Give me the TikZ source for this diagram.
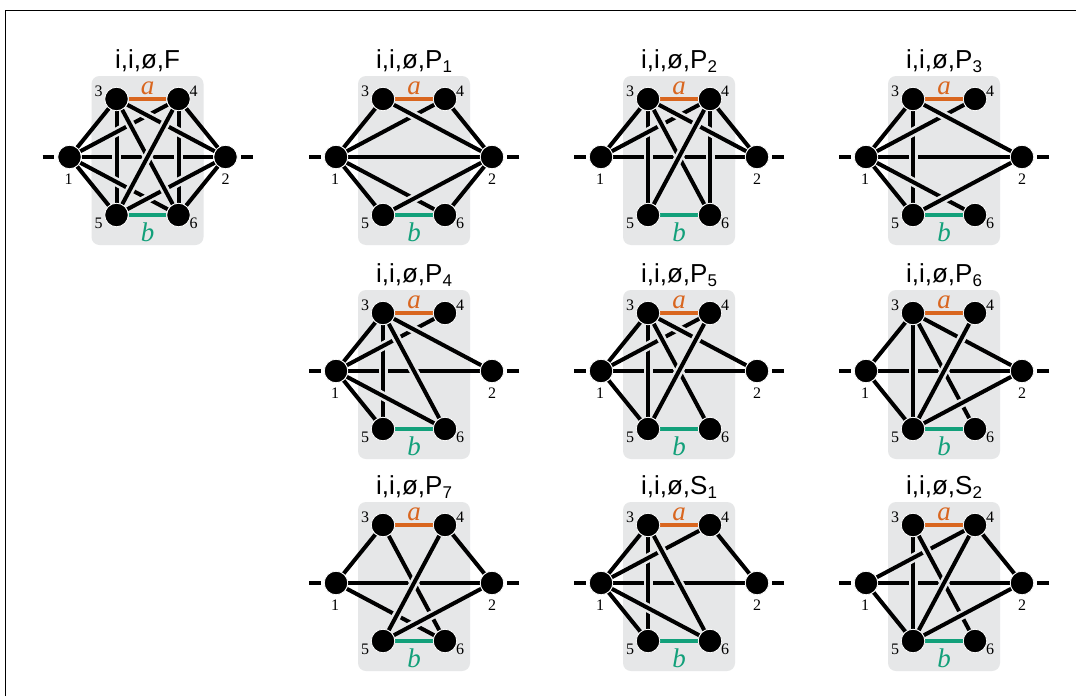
\documentclass[tikz,border=0pt]{standalone}
\usepackage{fontspec}
\setmainfont{Liberation Serif}
\newfontfamily\titlefont{Liberation Sans}
\usetikzlibrary{calc}
\pgfdeclarelayer{paper}
\pgfdeclarelayer{boxes}
\pgfdeclarelayer{wires}
\pgfsetlayers{paper,boxes,wires,main}
\definecolor{boxgray}{HTML}{E6E7E8}
\definecolor{aorange}{HTML}{D9661F}
\definecolor{bgreen}{HTML}{12A07A}

\tikzset{
  vtx/.style={circle, fill=black, draw=white, line width=0.8pt, minimum size=23.5pt, inner sep=0pt},
  halo/.style={boxgray, line width=9pt, shorten <=8pt, shorten >=8pt},
  edge/.style={line width=4pt, black},
  stub/.style={line width=4pt, black, shorten >=3pt},
  aedge/.style={line width=3.5pt, aorange},
  bedge/.style={line width=3.5pt, bgreen},
  num/.style={font=\fontsize{16}{16}\selectfont, inner sep=0pt, anchor=base},
  alab/.style={font=\fontsize{27}{27}\selectfont\itshape, text=aorange, inner sep=0pt, anchor=base},
  blab/.style={font=\fontsize{27}{27}\selectfont\itshape, text=bgreen, inner sep=0pt, anchor=base},
  ttl/.style={font=\fontsize{26}{26}\selectfont\titlefont, inner sep=0pt, anchor=base},
  gbox/.style={fill=boxgray, rounded corners=8pt}
}

% subscript used in the titles
\newcommand\tsub[1]{\raisebox{-4pt}{\fontsize{17}{17}\selectfont #1}}

% #1 prefix, #2 centre x, #3 centre y, #4 title, #5 list of edges u/v (drawn in order)
\newcommand\molgraph[5]{%
  \begin{pgfonlayer}{boxes}
    \fill[gbox] (#2-56,#3-81) rectangle (#2+56,#3+88);
  \end{pgfonlayer}
  \node[ttl] (#1-t) at (#2,#3-89) {#4};
  \node[vtx] (#1-1) at (#2-78,#3) {};
  \node[vtx] (#1-2) at (#2+78,#3) {};
  \node[vtx] (#1-3) at (#2-31,#3-58) {};
  \node[vtx] (#1-4) at (#2+31,#3-58) {};
  \node[vtx] (#1-5) at (#2-31,#3+58) {};
  \node[vtx] (#1-6) at (#2+31,#3+58) {};
  \node[num] (#1-n1) at (#2-79,#3+27) {1};
  \node[num] (#1-n2) at (#2+78,#3+27) {2};
  \node[num] (#1-n3) at (#2-49,#3-61) {3};
  \node[num] (#1-n4) at (#2+46,#3-61) {4};
  \node[num] (#1-n5) at (#2-49,#3+71) {5};
  \node[num] (#1-n6) at (#2+46,#3+71) {6};
  \coordinate (#1-L) at (#2-105,#3);
  \coordinate (#1-R) at (#2+105,#3);
  \draw[stub] (#1-L) -- (#1-1);
  \draw[stub] (#1-R) -- (#1-2);
  \begin{pgfonlayer}{wires}
    \foreach \u/\v in {#5} {
      % gap where this wire crosses earlier ones (inside the panel only)
      \begin{scope}
        \clip[rounded corners=8pt] (#2-56,#3-81) rectangle (#2+56,#3+88);
        \draw[halo] (#1-\u) -- (#1-\v);
      \end{scope}
      \draw[edge] (#1-\u) -- (#1-\v);
    }
    \draw[aedge] (#1-3) -- (#1-4);
    \draw[bedge] (#1-5) -- (#1-6);
  \end{pgfonlayer}
  \node[alab] (#1-a) at (#2,#3-63) {a};
  \node[blab] (#1-b) at (#2,#3+84) {b};
}

\begin{document}
\begin{tikzpicture}[x=1pt, y=-1pt]
  \useasboundingbox (0,0) rectangle (1076,696);
  \begin{pgfonlayer}{paper}
    \fill[white] (0,0) rectangle (1076,696);
  \end{pgfonlayer}
  \draw[line width=1pt] (5,696) -- (5,10) -- (1076,10);

  \molgraph{F}{147.5}{157}{i,i,ø,F}{1/2,3/5,4/6,1/3,1/4,1/5,1/6,2/3,2/4,2/5,2/6,3/6,4/5}
  \molgraph{Pa}{414}{157}{i,i,ø,P\tsub{1}}{1/2,1/3,1/4,1/5,1/6,2/3,2/4,2/5,2/6}
  \molgraph{Pb}{679}{157}{i,i,ø,P\tsub{2}}{1/2,3/5,4/6,1/3,1/4,2/3,2/4,3/6,4/5}
  \molgraph{Pc}{944}{157}{i,i,ø,P\tsub{3}}{1/2,3/5,1/3,1/4,1/5,1/6,2/3,2/5}

  \molgraph{Pd}{414}{371}{i,i,ø,P\tsub{4}}{1/2,3/5,1/3,1/4,1/5,1/6,3/6,2/3}
  \molgraph{Pe}{679}{371}{i,i,ø,P\tsub{5}}{1/2,3/5,1/3,1/4,1/5,3/6,2/3,4/5}
  \molgraph{Pf}{944}{371}{i,i,ø,P\tsub{6}}{1/2,3/5,1/3,1/5,3/6,2/3,4/5,2/5}

  \molgraph{Pg}{414}{583}{i,i,ø,P\tsub{7}}{1/2,1/3,1/6,3/6,4/5,2/4,2/5}
  \molgraph{Sa}{679}{583}{i,i,ø,S\tsub{1}}{1/2,3/5,1/3,1/4,1/5,1/6,3/6,2/4}
  \molgraph{Sb}{944}{583}{i,i,ø,S\tsub{2}}{1/2,3/5,1/4,1/5,3/6,4/5,2/4,2/5}
\end{tikzpicture}
\end{document}
